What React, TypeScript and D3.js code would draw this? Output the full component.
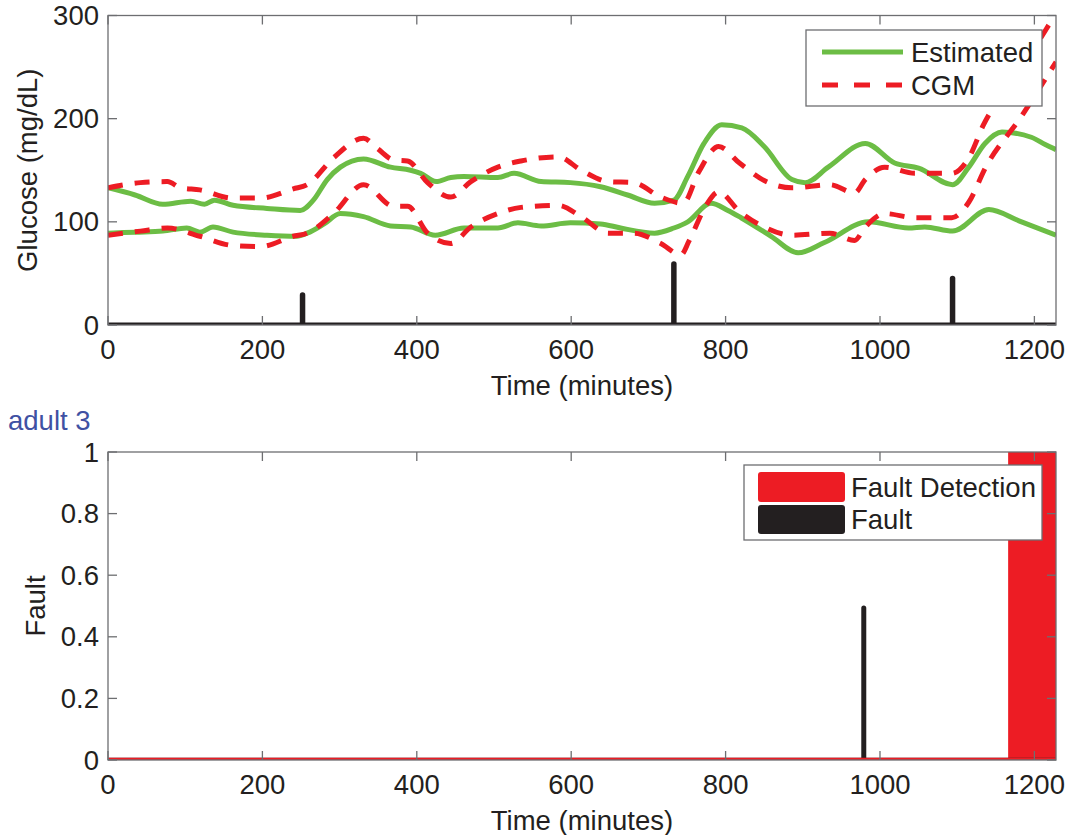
import React from "react";
import * as d3 from "d3";

// ---------- data ----------
const timeTicks = [0, 200, 400, 600, 800, 1000, 1200];
const glucoseTicks = [0, 100, 200, 300];
const faultTicks = [0, 0.2, 0.4, 0.6, 0.8, 1];

const estimatedUpper: [number, number][] = [
  [0, 133], [35, 126], [71, 117], [107, 120], [125, 117], [138, 121], [162, 116],
  [206, 113], [249, 111], [266, 121], [284, 141], [301, 153], [331, 161], [366, 153],
  [392, 150], [405, 147], [425, 139], [444, 143], [461, 144], [505, 143], [526, 147],
  [561, 139], [599, 138], [638, 134], [673, 126], [708, 118], [733, 121], [751, 144],
  [772, 176], [795, 194], [821, 191], [850, 173], [886, 141], [903, 138], [933, 153],
  [981, 176], [1019, 157], [1050, 152], [1094, 136], [1115, 153], [1136, 176],
  [1158, 187], [1196, 182], [1214, 175], [1228, 170],
];

const estimatedLower: [number, number][] = [
  [0, 89], [35, 90], [71, 91], [102, 94], [119, 90], [136, 95], [162, 90], [206, 87],
  [245, 86], [258, 89], [280, 98], [301, 108], [331, 105], [366, 96], [392, 95],
  [424, 87], [461, 94], [505, 94], [531, 99], [561, 96], [599, 99], [638, 98],
  [664, 94], [708, 89], [733, 94], [751, 100], [781, 118], [803, 111], [820, 104],
  [859, 86], [894, 70], [928, 80], [985, 100], [1037, 94], [1058, 95], [1094, 91],
  [1141, 112], [1180, 101], [1228, 87],
];

const cgmUpper: [number, number][] = [
  [0, 133], [42, 138], [77, 139], [94, 133], [119, 131], [162, 123], [197, 123],
  [240, 132], [258, 136], [292, 162], [331, 181], [349, 171], [370, 160], [388, 159],
  [414, 138], [444, 124], [470, 139], [505, 153], [535, 159], [583, 163], [613, 150],
  [648, 139], [681, 138], [716, 124], [745, 118], [765, 148], [791, 173], [818, 157],
  [850, 140], [886, 133], [935, 136], [967, 128], [981, 141], [1006, 153], [1045, 147],
  [1093, 147], [1115, 162], [1134, 194], [1180, 245], [1223, 296], [1228, 302],
];

const cgmLower: [number, number][] = [
  [0, 87], [42, 91], [77, 94], [119, 86], [162, 77], [197, 76], [240, 86], [258, 89],
  [292, 108], [331, 136], [370, 115], [388, 115], [414, 89], [444, 79], [470, 95],
  [505, 108], [535, 114], [583, 116], [613, 105], [648, 89], [681, 89], [716, 79],
  [742, 68], [753, 82], [774, 115], [791, 129], [818, 110], [850, 95], [886, 87],
  [935, 89], [967, 82], [981, 95], [1006, 108], [1045, 104], [1093, 104], [1115, 119],
  [1137, 153], [1183, 202], [1228, 255],
];

const glucoseFaultTimes = [252, 733, 1094];
const glucoseFaultHeights = [31, 61, 47];

const faultTimes = [979];
const faultValues = [0.5];
const detectionStart = [1166];
const detectionEnd = [1228];
const detectionValue = [1];

// ---------- style ----------
const GREEN = "#6cbd45";
const RED = "#ed1c24";
const BLACK = "#231f20";
const AXIS = "#6d6e71";
const FONT = "'Liberation Sans', Arial, Helvetica, sans-serif";
const FS = 27.5;

const X0 = 108;
const X1 = 1056;

export default function App() {
  const x = d3.scaleLinear().domain([0, 1228]).range([X0, X1]);
  const yTop = d3.scaleLinear().domain([0, 300]).range([325, 15.5]);
  const yBot = d3.scaleLinear().domain([0, 1]).range([760, 452]);

  const line = (ys: d3.ScaleLinear<number, number>) =>
    d3
      .line<[number, number]>()
      .x((d) => x(d[0]))
      .y((d) => ys(d[1]))
      .curve(d3.curveMonotoneX);

  const lt = line(yTop);

  const frame = (ys: d3.ScaleLinear<number, number>, yticks: number[], key: string) => {
    const [yb, yt] = ys.range();
    return (
      <g key={key}>
        <rect x={X0} y={yt} width={X1 - X0} height={yb - yt} fill="none" stroke={AXIS} strokeWidth={1.3} />
        {timeTicks.map((t) => (
          <g key={"xt" + t}>
            <line x1={x(t)} x2={x(t)} y1={yb} y2={yb - 9} stroke={AXIS} strokeWidth={1.3} />
            <line x1={x(t)} x2={x(t)} y1={yt} y2={yt + 9} stroke={AXIS} strokeWidth={1.3} />
            <text x={x(t)} y={yb + 24} textAnchor="middle" dominantBaseline="central" fontSize={FS} fill={BLACK} fontFamily={FONT}>
              {t}
            </text>
          </g>
        ))}
        {yticks.map((v) => (
          <g key={"yt" + v}>
            <line x1={X0} x2={X0 + 9} y1={ys(v)} y2={ys(v)} stroke={AXIS} strokeWidth={1.3} />
            <line x1={X1} x2={X1 - 9} y1={ys(v)} y2={ys(v)} stroke={AXIS} strokeWidth={1.3} />
            <text x={99} y={ys(v)} textAnchor="end" dominantBaseline="central" fontSize={FS} fill={BLACK} fontFamily={FONT}>
              {String(v)}
            </text>
          </g>
        ))}
        <text x={(X0 + X1) / 2} y={yb + 60} textAnchor="middle" dominantBaseline="central" fontSize={FS} fill={BLACK} fontFamily={FONT}>
          Time (minutes)
        </text>
      </g>
    );
  };

  return (
    <svg width={1070} height={835} style={{ position: "absolute", left: 0, top: 0, background: "#fff" }} fontFamily={FONT}>
      <defs>
        <clipPath id="clipTop">
          <rect x={X0} y={yTop(300)} width={X1 - X0} height={yTop(0) - yTop(300)} />
        </clipPath>
        <clipPath id="clipBot">
          <rect x={X0} y={yBot(1)} width={X1 - X0} height={yBot(0) - yBot(1)} />
        </clipPath>
      </defs>
      <rect x={0} y={0} width={1070} height={835} fill="#fff" />

      {/* ---------- top plot ---------- */}
      <g clipPath="url(#clipTop)">
        <path d={lt(estimatedUpper) || ""} fill="none" stroke={GREEN} strokeWidth={5} strokeLinejoin="round" />
        <path d={lt(estimatedLower) || ""} fill="none" stroke={GREEN} strokeWidth={5} strokeLinejoin="round" />
        <path d={lt(cgmUpper) || ""} fill="none" stroke={RED} strokeWidth={5} strokeDasharray="15,12" />
        <path d={lt(cgmLower) || ""} fill="none" stroke={RED} strokeWidth={5} strokeDasharray="15,12" />
        <line x1={X0} x2={X1} y1={yTop(0)} y2={yTop(0)} stroke={BLACK} strokeWidth={5} />
        {glucoseFaultTimes.map((t, i) => (
          <line key={"gf" + i} x1={x(t)} x2={x(t)} y1={yTop(0)} y2={yTop(glucoseFaultHeights[i]) + 2} stroke={BLACK} strokeWidth={5.5} strokeLinecap="round" />
        ))}
      </g>
      {frame(yTop, glucoseTicks, "ftop")}
      <text transform={`translate(37,${(yTop(0) + yTop(300)) / 2}) rotate(-90)`} textAnchor="middle" fontSize={FS} fill={BLACK} fontFamily={FONT}>
        Glucose (mg/dL)
      </text>

      {/* legend top */}
      <rect x={806} y={30} width={236} height={76} fill="#fff" stroke={AXIS} strokeWidth={1.3} />
      <line x1={822} x2={903} y1={52} y2={52} stroke={GREEN} strokeWidth={5} />
      <line x1={822} x2={903} y1={85} y2={85} stroke={RED} strokeWidth={5} strokeDasharray="16,16" />
      <text x={911} y={52} dominantBaseline="central" fontSize={FS} fill={BLACK} fontFamily={FONT}>Estimated</text>
      <text x={911} y={85} dominantBaseline="central" fontSize={FS} fill={BLACK} fontFamily={FONT}>CGM</text>

      {/* subtitle */}
      <text x={8} y={430} fontSize={FS} fill="#3f51a3" fontFamily={FONT}>adult 3</text>

      {/* ---------- bottom plot ---------- */}
      <g clipPath="url(#clipBot)">
        {detectionStart.map((s, i) => (
          <rect key={"det" + i} x={x(s)} y={yBot(detectionValue[i])} width={x(detectionEnd[i]) - x(s)} height={yBot(0) - yBot(detectionValue[i])} fill={RED} />
        ))}
        <line x1={X0} x2={X1} y1={yBot(0)} y2={yBot(0)} stroke={BLACK} strokeWidth={4.5} />
        {faultTimes.map((t, i) => (
          <line key={"bf" + i} x1={x(t)} x2={x(t)} y1={yBot(0)} y2={yBot(faultValues[i]) + 2} stroke={BLACK} strokeWidth={5} strokeLinecap="round" />
        ))}
        <line x1={X0} x2={X1} y1={yBot(0) - 0.8} y2={yBot(0) - 0.8} stroke={RED} strokeWidth={3} />
      </g>
      {frame(yBot, faultTicks, "fbot")}
      <text transform={`translate(45,${(yBot(0) + yBot(1)) / 2}) rotate(-90)`} textAnchor="middle" fontSize={FS} fill={BLACK} fontFamily={FONT}>
        Fault
      </text>

      {/* legend bottom */}
      <rect x={744} y={465} width={298} height={75} fill="#fff" stroke={AXIS} strokeWidth={1.3} />
      <rect x={758} y={472} width={87} height={30} rx={3} fill={RED} />
      <rect x={758} y={505} width={87} height={29} rx={3} fill={BLACK} />
      <text x={851} y={487} dominantBaseline="central" fontSize={FS} fill={BLACK} fontFamily={FONT}>Fault Detection</text>
      <text x={851} y={519} dominantBaseline="central" fontSize={FS} fill={BLACK} fontFamily={FONT}>Fault</text>
    </svg>
  );
}
